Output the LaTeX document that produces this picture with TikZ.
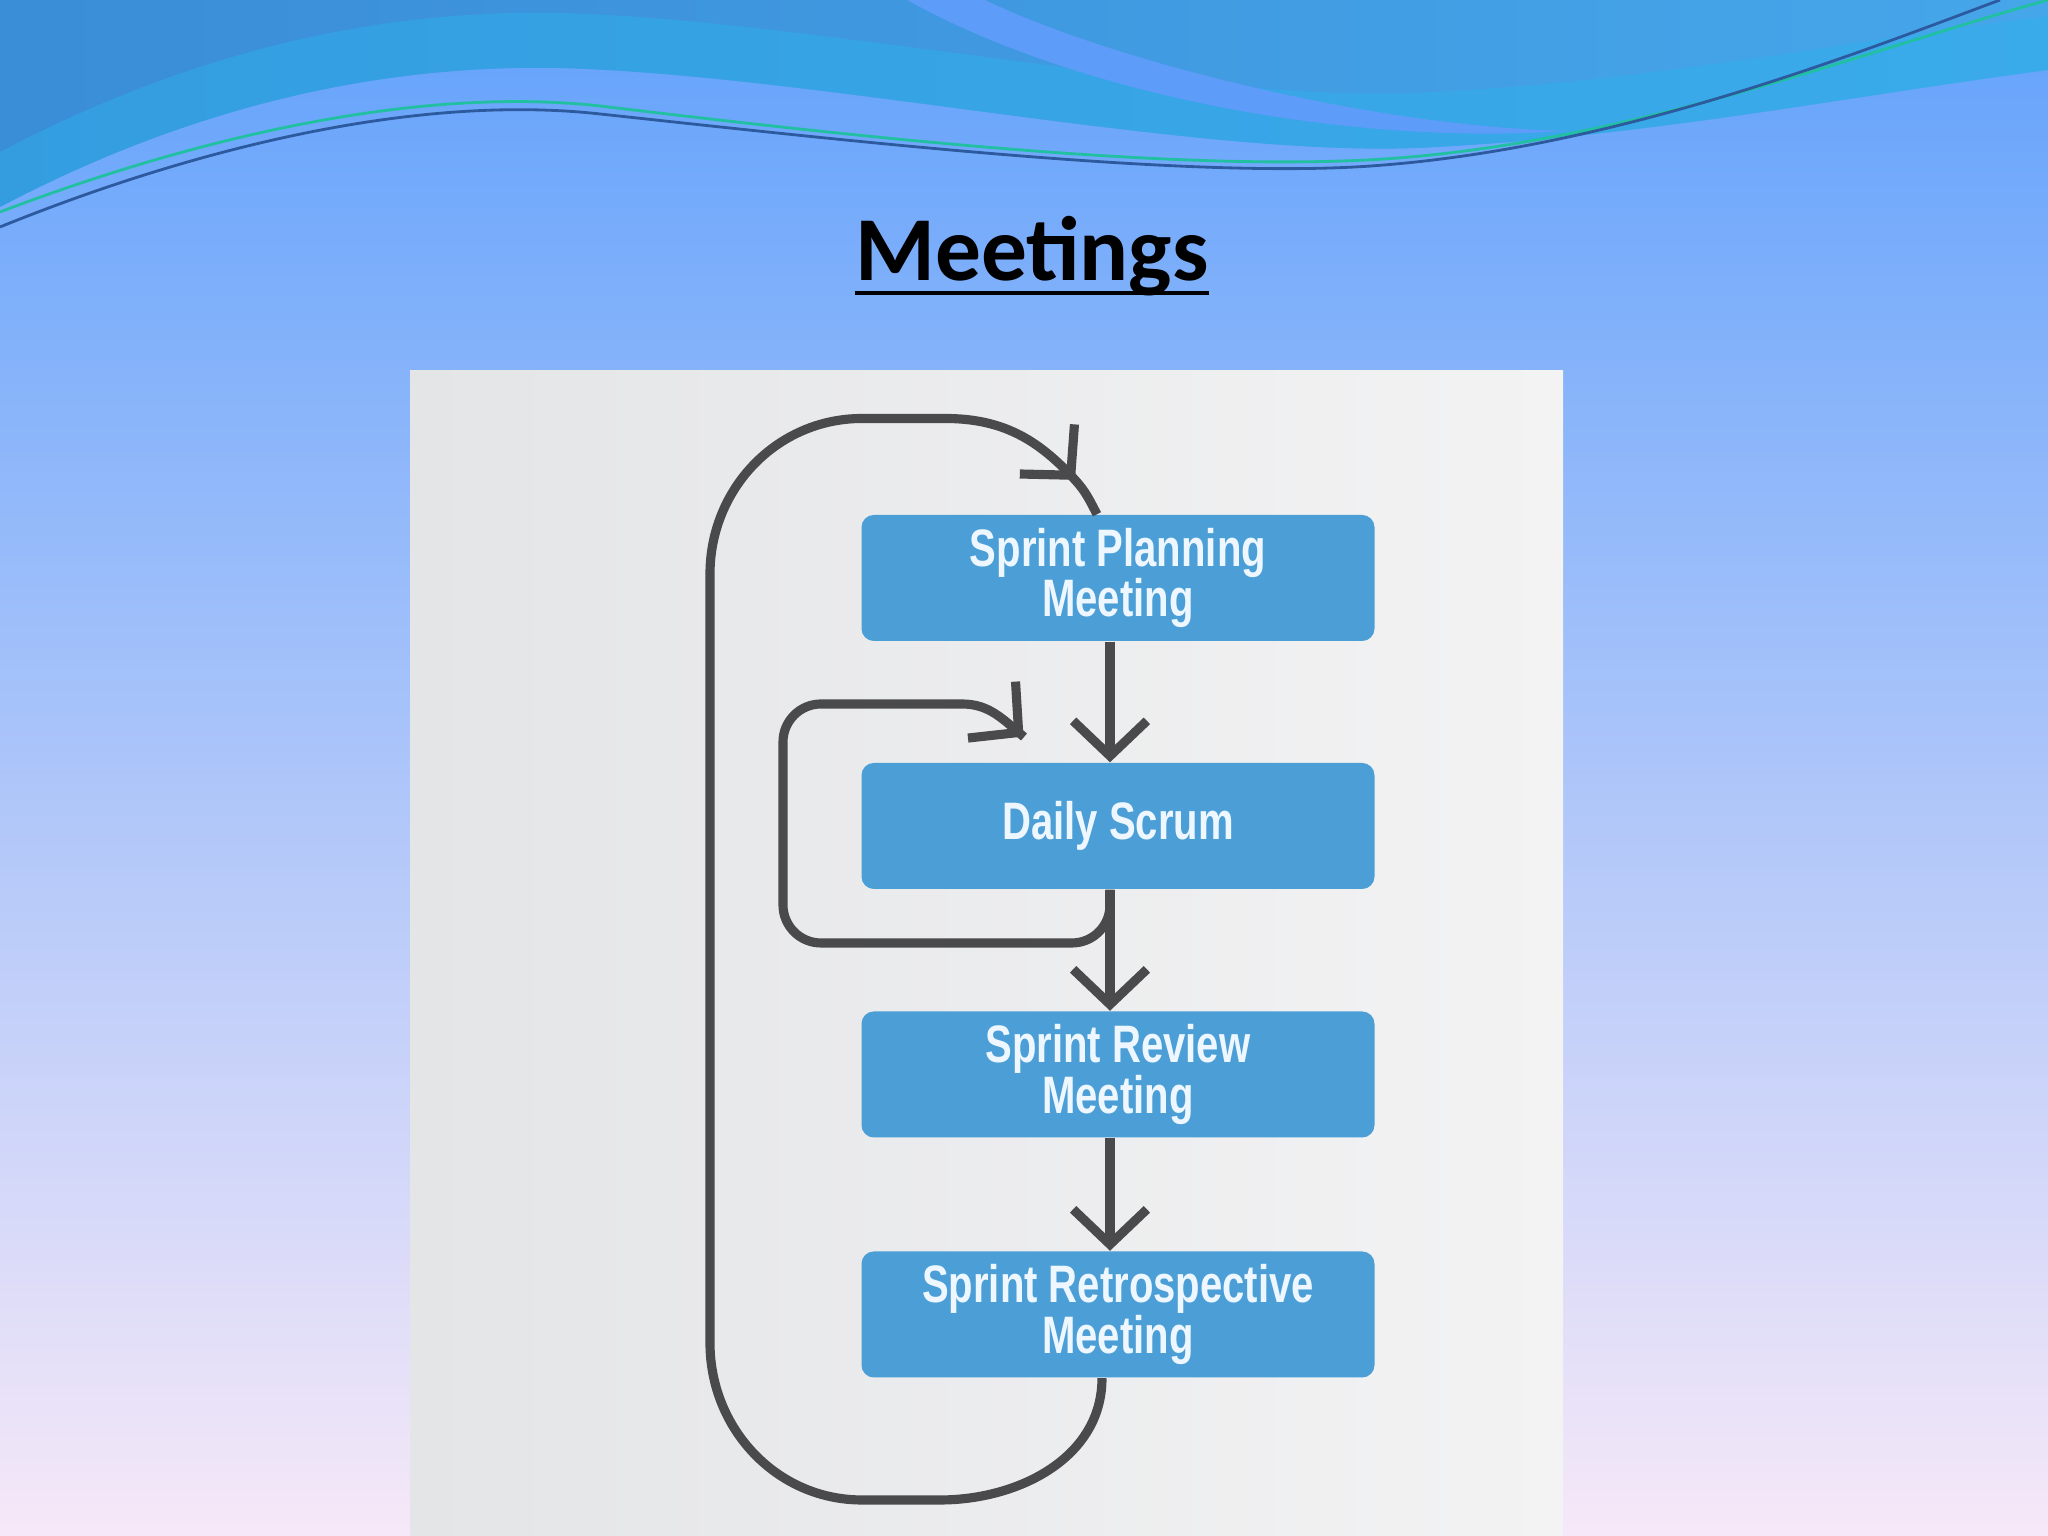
\documentclass[tikz,border=0pt]{standalone}
\usepackage{fontspec}
\setmainfont{Carlito}
\newfontfamily\boxfont[FakeStretch=0.76]{Liberation Sans}
\usetikzlibrary{arrows.meta,positioning,decorations.markings}

\definecolor{bgtop}{HTML}{62A2FB}
\definecolor{bgmid}{HTML}{9EC6F5}
\definecolor{bgbot}{HTML}{F6E8F8}
\definecolor{wavedark}{HTML}{3A8DD7}
\definecolor{waveright}{HTML}{46A6EA}
\definecolor{waveteal}{HTML}{2CB2EC}
\definecolor{streak}{HTML}{5D9CF8}
\definecolor{linegreen}{HTML}{20C0A0}
\definecolor{linenavy}{HTML}{2D5A9E}
\definecolor{panelL}{HTML}{E4E5E7}
\definecolor{panelR}{HTML}{F3F3F4}
\definecolor{boxblue}{HTML}{4B9FD6}
\definecolor{boxtext}{HTML}{EEF7FF}
\definecolor{flowgray}{HTML}{4A4A4C}

\begin{document}
\begin{tikzpicture}[x=1cm,y=1cm,
  box/.style={fill=boxblue,rounded corners=3.5pt,minimum width=5.13cm,minimum height=1.26cm,
    align=center,text=boxtext,font=\boxfont\bfseries\fontsize{15}{14.5}\selectfont},
  ttl/.style={inner sep=0pt,font=\fontsize{26}{30}\selectfont\bfseries},
  ln/.style={draw=flowgray,line width=2.6pt},
  flow/.style={ln,-{Straight Barb[length=10pt,width=21pt]}},
  midtip/.style={ln,postaction={decorate,decoration={markings,
    mark=at position #1 with {\arrow{Straight Barb[length=10pt,width=21pt]}}}}}]
\useasboundingbox (0,0) rectangle (20.48,15.36);
% background and top wave
\shade[top color=bgtop,middle color=bgmid,bottom color=bgbot] (0,0) rectangle (20.48,15.36);
\shade[left color=wavedark,right color=waveright] (0,13.29) .. controls (2.2,14.45) and (4.2,14.75) .. (5.87,14.67)
  .. controls (8.5,14.55) and (12.2,13.75) .. (14.36,13.89) .. controls (16.5,14.0) and (18.5,14.4) .. (20.48,14.66)
  -- (20.48,15.36) -- (0,15.36) -- cycle;
\fill[waveteal,opacity=.45] (0,13.29) .. controls (2.2,14.45) and (4.2,14.75) .. (5.87,14.67)
  .. controls (8.5,14.55) and (12.2,13.75) .. (14.36,13.89) .. controls (16.5,14.0) and (18.5,14.4) .. (20.48,14.66)
  -- (20.48,15.2) .. controls (18.5,14.95) and (16.5,14.55) .. (14.36,14.44)
  .. controls (12.2,14.3) and (8.5,15.1) .. (5.87,15.22) .. controls (4.2,15.3) and (2.2,15.0) .. (0,13.84) -- cycle;
\fill[streak] (9.07,15.36) .. controls (10.8,14.4) and (13.5,13.9) .. (15.67,14.05)
  .. controls (13.6,14.1) and (11.0,14.8) .. (9.85,15.36) -- cycle;
\draw[linegreen,line width=0.8pt] (0,13.24) .. controls (2.0,14.0) and (4.2,14.5) .. (6.0,14.30)
  .. controls (8.5,14.0) and (12.0,13.6) .. (14.1,13.79) .. controls (16.5,14.0) and (18.8,14.9) .. (20.48,15.36);
\draw[linenavy,line width=0.8pt] (0,13.09) .. controls (2.0,13.9) and (4.2,14.42) .. (6.0,14.22)
  .. controls (8.5,13.95) and (12.0,13.55) .. (13.84,13.71) .. controls (16.2,13.9) and (18.5,14.8) .. (20.0,15.36);
% title
\node[ttl,anchor=base] (title) at (10.32,12.55) {Meetings};
\draw[line width=1.2pt] ([yshift=1.2pt]title.south west) -- ([yshift=1.2pt]title.south east);
% panel
\shade[left color=panelL,right color=panelR] (4.10,0) rectangle (15.63,11.65);
% meetings
\node[box] (plan) at (11.18,9.58) {Sprint Planning\\Meeting};
\node[box] (daily) at (11.18,7.10) {Daily Scrum};
\node[box] (review) at (11.18,4.615) {Sprint Review\\Meeting};
\node[box] (retro) at (11.18,2.215) {Sprint Retrospective\\Meeting};
\coordinate (spine) at (11.10,0);
\coordinate (smalltip) at (10.24,7.99);
\draw[flow] (plan.south -| spine) -- (daily.north -| spine);
\draw[flow] (daily.south -| spine) -- (review.north -| spine);
\draw[flow] (review.south -| spine) -- (retro.north -| spine);
% daily loop
\draw[midtip=-0.2pt] (daily.south -| spine) -- (11.10,6.31) arc[start angle=0,end angle=-90,radius=0.38]
  -- (8.21,5.93) arc[start angle=270,end angle=180,radius=0.38] -- (7.83,7.94)
  arc[start angle=180,end angle=90,radius=0.38] -- (9.62,8.32) to[out=0,in=140] (smalltip);
% sprint loop
\draw[midtip=-0.41cm] ([xshift=-0.16cm]retro.south) to[out=-90,in=0] (9.40,0.36) -- (8.62,0.36)
  to[out=180,in=-90] (7.10,1.93) -- (7.10,9.62) to[out=90,in=180] (8.62,11.175) -- (9.45,11.175)
  to[out=0,in=132] (10.76,10.55) to[out=-48,in=118] ([xshift=-0.21cm]plan.north);
\end{tikzpicture}
\end{document}
